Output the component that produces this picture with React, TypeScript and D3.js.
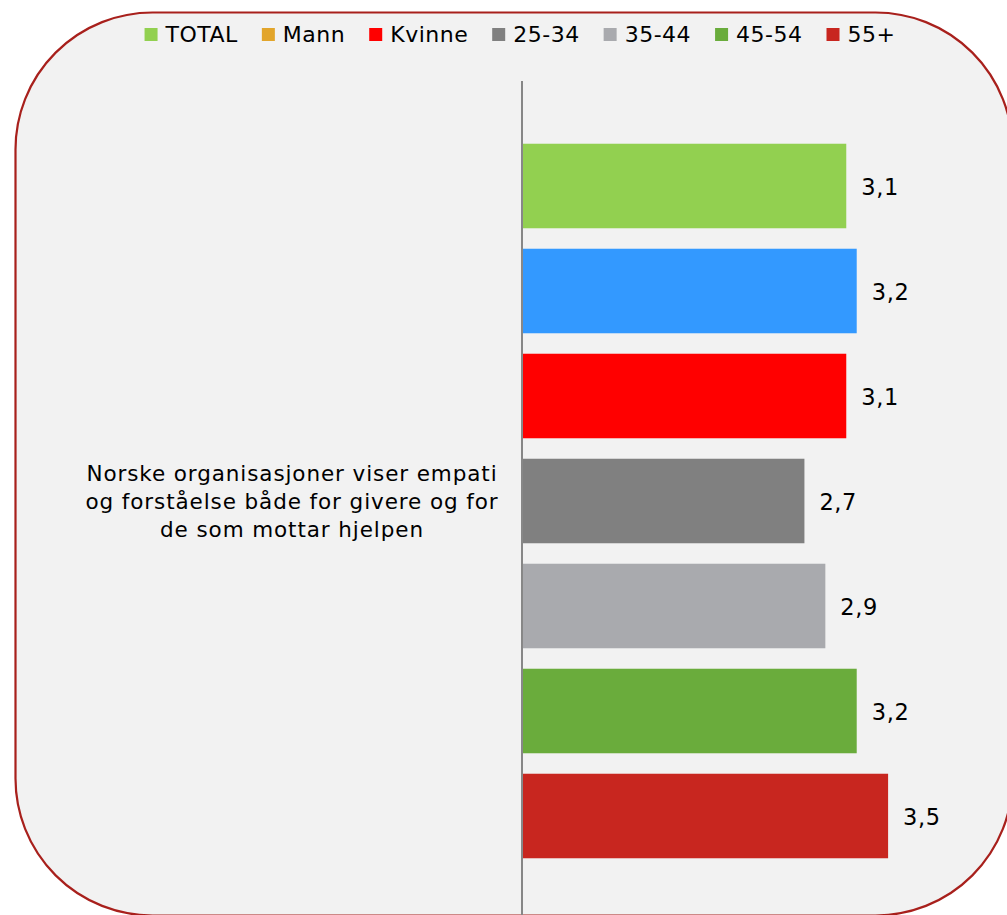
import React, { useEffect, useRef } from "react";
import * as d3 from "d3";

const seriesNames = ["TOTAL", "Mann", "Kvinne", "25-34", "35-44", "45-54", "55+"];
const seriesValues = [3.1, 3.2, 3.1, 2.7, 2.9, 3.2, 3.5];
const barColors = ["#92d050", "#3399ff", "#ff0000", "#808080", "#a9aaae", "#6aac3c", "#c8261f"];
const legendColors = ["#92d050", "#e2a52b", "#ff0000", "#808080", "#a9aaae", "#6aac3c", "#c8261f"];
const categoryLines = [
  "Norske organisasjoner viser empati",
  "og forståelse både for givere og for",
  "de som mottar hjelpen",
];

const W = 1007;
const H = 915;
const FONT = "'DejaVu Sans', Verdana, sans-serif";

export default function App() {
  const ref = useRef<SVGSVGElement | null>(null);

  useEffect(() => {
    const svg = d3.select(ref.current);
    svg.selectAll("*").remove();

    svg.append("rect").attr("x", 0).attr("y", 0).attr("width", W).attr("height", H).attr("fill", "#ffffff");

    svg
      .append("rect")
      .attr("x", 15.5)
      .attr("y", 12.5)
      .attr("width", 997)
      .attr("height", 903)
      .attr("rx", 137)
      .attr("ry", 137)
      .attr("fill", "#f2f2f2")
      .attr("stroke", "#a8201c")
      .attr("stroke-width", 2.2);

    const axisX = 522;
    const x = d3.scaleLinear().domain([0, 1]).range([axisX, axisX + 104.6]);
    const y = d3
      .scaleBand<string>()
      .domain(seriesNames)
      .range([133.5, 868.5])
      .paddingInner(0.195)
      .paddingOuter(0.0975);

    const g = svg.append("g");
    g.selectAll("rect.bar")
      .data(seriesValues)
      .enter()
      .append("rect")
      .attr("class", "bar")
      .attr("x", x(0))
      .attr("y", (_d, i) => y(seriesNames[i]) as number)
      .attr("width", (d) => x(d) - x(0))
      .attr("height", y.bandwidth())
      .attr("fill", (_d, i) => barColors[i]);

    g.selectAll("text.val")
      .data(seriesValues)
      .enter()
      .append("text")
      .attr("class", "val")
      .attr("x", (d) => x(d) + 15)
      .attr("y", (_d, i) => (y(seriesNames[i]) as number) + y.bandwidth() / 2 + 9)
      .attr("font-family", FONT)
      .attr("font-size", 22.5)
      .attr("letter-spacing", 0.6)
      .attr("fill", "#000")
      .text((d) => d.toFixed(1).replace(".", ","));

    // axis line
    svg
      .append("line")
      .attr("x1", axisX)
      .attr("x2", axisX)
      .attr("y1", 81)
      .attr("y2", H)
      .attr("stroke", "#878787")
      .attr("stroke-width", 2);

    // category label
    const midY = (133.5 + 868.5) / 2;
    const lh = 28;
    const cat = svg
      .append("text")
      .attr("text-anchor", "middle")
      .attr("font-family", FONT)
      .attr("font-size", 21.5)
      .attr("letter-spacing", 0.9)
      .attr("fill", "#000");
    categoryLines.forEach((line, i) => {
      cat
        .append("tspan")
        .attr("x", 292)
        .attr("y", midY + 8 + (i - 1) * lh)
        .text(line);
    });

    // legend
    const leg = svg.append("g");
    const sw = 13;
    const gapSwText = 8;
    const gapItem = 24;
    let cx = 0;
    seriesNames.forEach((name, i) => {
      const ig = leg.append("g").attr("transform", `translate(${cx},0)`);
      ig.append("rect").attr("x", 0).attr("y", 28).attr("width", sw).attr("height", sw).attr("fill", legendColors[i]);
      const t = ig
        .append("text")
        .attr("x", sw + gapSwText)
        .attr("y", 42)
        .attr("font-family", FONT)
        .attr("font-size", 22)
        .attr("letter-spacing", 0.5)
        .attr("fill", "#000")
        .text(name);
      const tw = (t.node() as SVGTextElement).getComputedTextLength();
      cx += sw + gapSwText + tw + gapItem;
    });
    const total = cx - gapItem;
    const startX = 520 - total / 2;
    leg.attr("transform", `translate(${startX},0)`);
  }, []);

  return (
    <svg
      ref={ref}
      width={W}
      height={H}
      style={{ position: "absolute", left: 0, top: 0, display: "block" }}
    />
  );
}
